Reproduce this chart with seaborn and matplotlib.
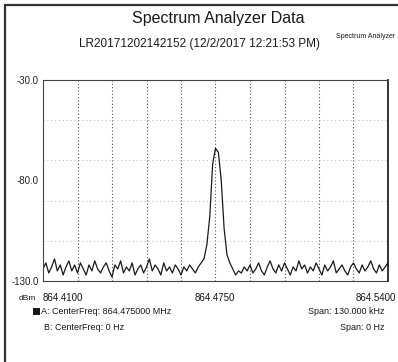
import numpy as np
import pandas as pd
import matplotlib as mpl
mpl.use('Agg')
import matplotlib.pyplot as plt
import seaborn as sns
from matplotlib.patches import Rectangle

# sweep settings
f_start = 864.4100
f_center = 864.4750
f_stop = 864.5400

# trace amplitude (dBm), left to right
amp_dbm = [
    -124, -121, -126, -123, -119, -125, -122, -127, -123, -120,
    -125, -122, -126, -121, -124, -127, -122, -125, -120, -124,
    -126, -123, -121, -125, -128, -122, -124, -120, -126, -123,
    -125, -121, -127, -124, -122, -126, -123, -119, -125, -122,
    -124, -127, -121, -125, -123, -126, -122, -124, -127, -123,
    -125, -122, -124, -126, -123, -121, -119, -112, -98, -72,
    -64, -66, -80, -104, -117, -121, -124, -127, -125, -126,
    -123, -125, -122, -126, -124, -121, -125, -127, -123, -120,
    -124, -126, -122, -125, -121, -124, -127, -123, -125, -120,
    -124, -122, -126, -123, -125, -121, -124, -127, -122, -125,
    -123, -120, -126, -124, -122, -125, -127, -123, -121, -124,
    -126, -122, -125, -123, -120, -124, -126, -122, -125, -123,
    -121,
]

y_ticks = [-30.0, -80.0, -130.0]
y_tick_labels = ['-30.0', '-80.0', '-130.0']
x_tick_labels = ['864.4100', '864.4750', '864.5400']

title = 'Spectrum Analyzer Data'
subtitle = 'LR20171202142152 (12/2/2017 12:21:53 PM)'
marker_a = 'A: CenterFreq: 864.475000 MHz'
marker_b = 'B: CenterFreq: 0 Hz'
span_a = 'Span: 130.000 kHz'
span_b = 'Span: 0 Hz'

sns.set_style('white')
plt.rcParams['font.family'] = ['Liberation Sans Narrow', 'Liberation Sans', 'DejaVu Sans']

W, H = 398, 362
fig = plt.figure(figsize=(W / 100, H / 100), dpi=100)

def px(x, y):
    # pixel coords (top-left origin) -> figure fraction
    return x / W, 1 - y / H

# page frame (runs off the right and bottom edges like the scan)
fig.patches.append(Rectangle(px(5, 370), (W + 5) / W, 365 / H, transform=fig.transFigure,
                             fill=False, edgecolor='#333333', linewidth=1.6))

left, right, top, bottom = 43, 388, 80, 281
ax = fig.add_axes([left / W, 1 - bottom / H, (right - left) / W, (bottom - top) / H])

freq = np.linspace(f_start, f_stop, len(amp_dbm))
df = pd.DataFrame({'freq': freq, 'amp': amp_dbm})
sns.lineplot(data=df, x='freq', y='amp', ax=ax, color='#1a1a1a', linewidth=0.9)

ax.set_xlim(f_start, f_stop)
ax.set_ylim(-130, -30)

# grid: 10 vertical divisions, 5 horizontal
for xv in np.linspace(f_start, f_stop, 11)[1:-1]:
    ax.axvline(xv, color='#555555', linestyle=(0, (1, 2)), linewidth=0.8, zorder=0)
for yv in [-50, -70, -90, -110]:
    ax.axhline(yv, color='#bbbbbb', linestyle=(0, (1, 3)), linewidth=0.7, zorder=0)

ax.set_yticks(y_ticks)
ax.set_yticklabels(y_tick_labels, fontsize=7)
ax.set_xticks([])
ax.tick_params(axis='y', length=0, pad=3)
ax.set_xlabel('')
ax.set_ylabel('')

for side in ['left', 'top', 'bottom']:
    ax.spines[side].set_linestyle((0, (1, 1)))
    ax.spines[side].set_color('#444444')
    ax.spines[side].set_linewidth(0.8)
ax.spines['right'].set_color('#111111')
ax.spines['right'].set_linewidth(1.2)

# titles
fig.text(*px(218, 18), title, ha='center', va='center', fontsize=11.5, color='#1a1a1a')
fig.text(*px(200, 44), subtitle, ha='center', va='center', fontsize=8.5, color='#1a1a1a')
fig.text(*px(395, 37), 'Spectrum Analyzer', ha='right', va='center', fontsize=5, color='#1a1a1a')

# frequency labels under the plot
fig.text(*px(19, 298), 'dBm', ha='left', va='center', fontsize=6, color='#1a1a1a')
fig.text(*px(43, 298), x_tick_labels[0], ha='left', va='center', fontsize=7, color='#1a1a1a')
fig.text(*px(215, 298), x_tick_labels[1], ha='center', va='center', fontsize=7, color='#1a1a1a')
fig.text(*px(396, 298), x_tick_labels[2], ha='right', va='center', fontsize=7, color='#1a1a1a')

# marker info
fig.patches.append(Rectangle(px(33, 315), 7 / W, 7 / H, transform=fig.transFigure,
                             facecolor='#1a1a1a', edgecolor='none'))
fig.text(*px(41, 312), marker_a, ha='left', va='center', fontsize=6.5, color='#1a1a1a')
fig.text(*px(44, 327), marker_b, ha='left', va='center', fontsize=6.5, color='#1a1a1a')
fig.text(*px(385, 312), span_a, ha='right', va='center', fontsize=6.5, color='#1a1a1a')
fig.text(*px(385, 327), span_b, ha='right', va='center', fontsize=6.5, color='#1a1a1a')

fig.savefig('out.png', dpi=100)
